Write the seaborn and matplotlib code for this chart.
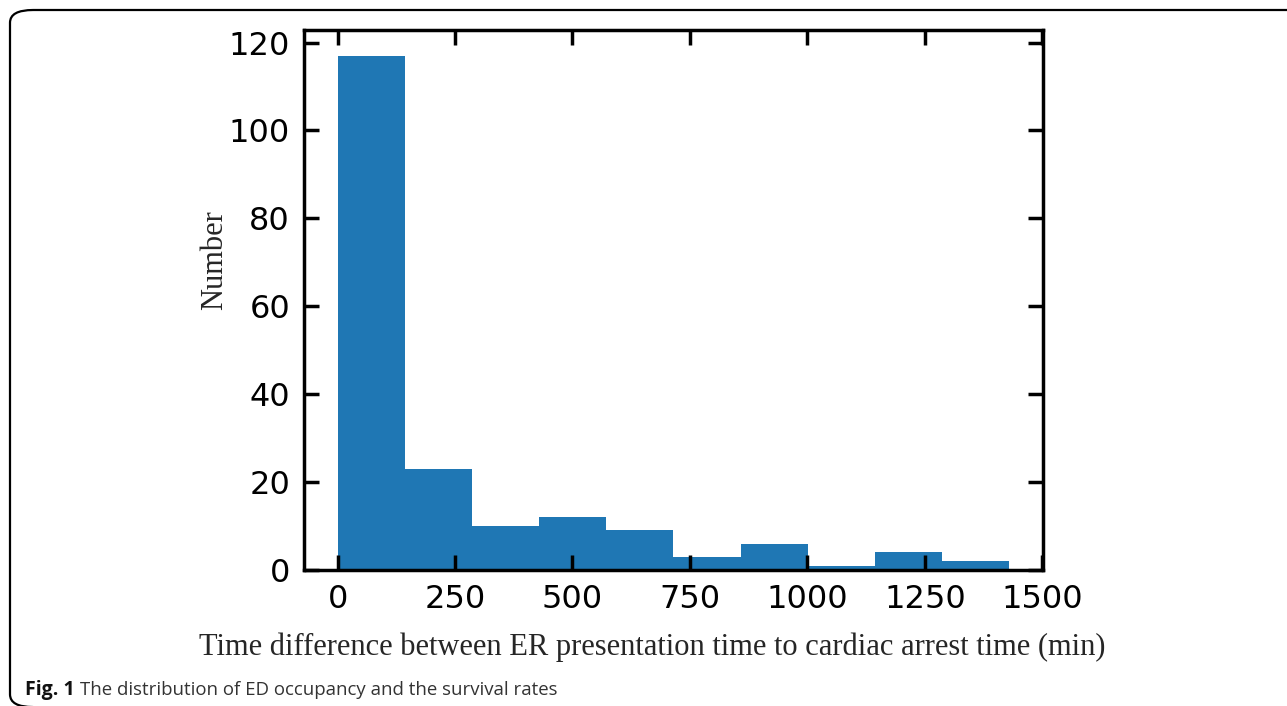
import numpy as np
import pandas as pd
import matplotlib
matplotlib.use("Agg")
import matplotlib.pyplot as plt
from matplotlib.patches import FancyBboxPatch
import seaborn as sns

# histogram counts (10 equal bins, 0 .. ~1430 min)
counts = [117, 23, 10, 12, 9, 3, 6, 1, 4, 2]
max_time = 1430
x_ticks = [0, 250, 500, 750, 1000, 1250, 1500]
y_ticks = [0, 20, 40, 60, 80, 100, 120]

n_bins = len(counts)
width = max_time / n_bins
mids = [width * (i + 0.5) for i in range(n_bins)]
df = pd.DataFrame({"time": mids, "n": counts})

sns.set_style("ticks")

fig = plt.figure(figsize=(12.87, 7.06), dpi=100)
ax = fig.add_axes([0.2362, 0.1926, 0.5742, 0.7649])

sns.histplot(data=df, x="time", weights="n", bins=n_bins, binrange=(0, max_time),
             color="#1f77b4", alpha=1, linewidth=0, ax=ax)

ax.set_xlim(-0.05 * max_time, 1.05 * max_time)
ax.set_ylim(0, 1.05 * max(counts))
ax.set_xticks(x_ticks)
ax.set_yticks(y_ticks)
ax.set_xlabel("")
ax.set_ylabel("")
ax.set_axisbelow(False)
for s in ax.spines.values():
    s.set_visible(True)
    s.set_linewidth(2.5)
    s.set_color("black")
ax.tick_params(direction="in", top=True, right=True, length=11, width=2.5,
               labelsize=23, pad=10, colors="black")

fig.text(0.5066, 0.083, "Time difference between ER presentation time to cardiac arrest time (min)",
         family="Liberation Serif", fontsize=22, ha="center", va="center")
fig.text(0.167, 0.632, "Number", family="Liberation Serif", fontsize=22,
         rotation=90, ha="center", va="center")

fig.text(0.0198, 0.023, "Fig. 1", family="Open Sans", fontweight="bold", fontsize=14,
         ha="left", va="center", color="#111111")
fig.text(0.062, 0.023, "The distribution of ED occupancy and the survival rates",
         family="Open Sans", fontsize=13.45, ha="left", va="center", color="#333333")

frame = FancyBboxPatch((10 / 1287, -0.0015), 1.1, (696 / 706) + 0.0015,
                       boxstyle="round,pad=0,rounding_size=0.018",
                       transform=fig.transFigure, fill=False, lw=1.6,
                       edgecolor="black", clip_on=False)
fig.patches.append(frame)

fig.savefig("out.png", dpi=100)
